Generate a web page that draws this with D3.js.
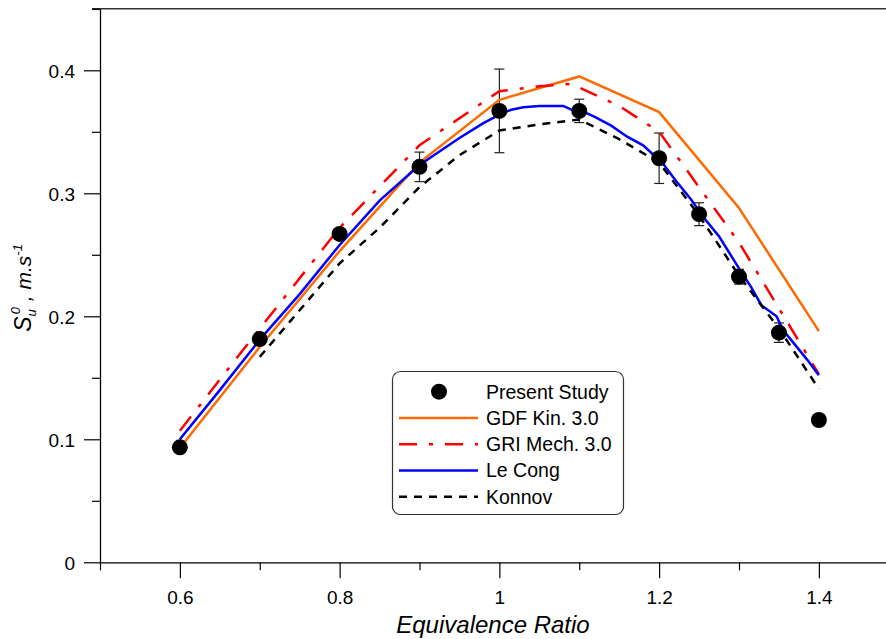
<!DOCTYPE html>
<html><head><meta charset="utf-8">
<script src="https://cdn.jsdelivr.net/npm/d3@7"></script>
<style>
html,body{margin:0;padding:0;background:#fff;}
svg{display:block;font-family:"Liberation Sans",Arial,sans-serif;}
</style></head>
<body><svg id="chart" width="886" height="639"></svg>
<script>
// ---------- DATA ----------
const phiExp = [0.6, 0.7, 0.8, 0.9, 1.0, 1.1, 1.2, 1.25, 1.3, 1.35, 1.4];
const suExp  = [0.0935, 0.1815, 0.267, 0.3215, 0.367, 0.367, 0.3285, 0.283, 0.2322, 0.1867, 0.1157];
const errExp = [0, 0, 0, 0.012, 0.034, 0.0095, 0.0205, 0.0093, 0.006, 0.0079, 0];

const phiGDF = [0.6, 0.7, 0.8, 0.9, 1.0, 1.1, 1.2, 1.3, 1.4];
const suGDF  = [0.093, 0.175, 0.253, 0.325, 0.376, 0.395, 0.366, 0.288, 0.188];

const phiGRI = [0.6, 0.7, 0.8, 0.9, 1.0, 1.05, 1.09, 1.15, 1.2, 1.3, 1.4];
const suGRI  = [0.107, 0.190, 0.272, 0.339, 0.383, 0.387, 0.389, 0.371, 0.350, 0.260, 0.153];

const phiLeCong = [0.6, 0.65, 0.7, 0.75, 0.8, 0.85, 0.9, 0.95, 0.98, 1.0, 1.015, 1.03, 1.05, 1.08, 1.09, 1.11, 1.12, 1.14, 1.16, 1.18, 1.205, 1.22, 1.24, 1.255, 1.275, 1.3, 1.315, 1.328, 1.347, 1.355, 1.385, 1.4];
const suLeCong  = [0.100, 0.140, 0.181, 0.218, 0.258, 0.294, 0.323, 0.345, 0.357, 0.364, 0.368, 0.370, 0.371, 0.371, 0.368, 0.365, 0.362, 0.355, 0.346, 0.339, 0.324, 0.311, 0.295, 0.281, 0.265, 0.239, 0.224, 0.209, 0.200, 0.189, 0.165, 0.152];

const phiKonnov = [0.7, 0.8, 0.85, 0.9, 0.95, 1.0, 1.05, 1.1, 1.15, 1.2, 1.25, 1.3, 1.35, 1.4];
const suKonnov  = [0.167, 0.243, 0.272, 0.305, 0.331, 0.351, 0.356, 0.360, 0.344, 0.325, 0.282, 0.233, 0.190, 0.141];

const xMajor = [0.6, 0.8, 1.0, 1.2, 1.4];
const xMinor = [0.5, 0.7, 0.9, 1.1, 1.3];
const yMajor = [0, 0.1, 0.2, 0.3, 0.4];
const yMinor = [0.05, 0.15, 0.25, 0.35, 0.45];

const legendLabels = ["Present Study", "GDF Kin. 3.0", "GRI Mech. 3.0", "Le Cong", "Konnov"];

// ---------- LAYOUT ----------
const svg = d3.select("#chart");
const x = d3.scaleLinear().domain([0.5, 1.5]).range([100, 898.75]);
const y = d3.scaleLinear().domain([0, 0.45]).range([562.3, 8.8]);
const fmt = d3.format("~g");

// top frame line
svg.append("line").attr("x1", 92).attr("x2", 886).attr("y1", y(0.45)).attr("y2", y(0.45))
  .attr("stroke", "#333").attr("stroke-width", 1.5);

// axes
function styleAxis(g) {
  g.selectAll("path.domain").attr("stroke", "#000").attr("stroke-width", 1.3);
  g.selectAll(".tick line").attr("stroke", "#000").attr("stroke-width", 1.2);
  g.selectAll("text").attr("font-size", 19).attr("fill", "#000")
   .attr("font-family", "'Liberation Sans',Arial,sans-serif");
}
const gy = svg.append("g").attr("transform", `translate(${x(0.5)},0)`)
  .call(d3.axisLeft(y).tickValues(yMajor).tickSize(16).tickSizeOuter(0).tickPadding(9).tickFormat(fmt));
styleAxis(gy);
gy.selectAll("text").attr("dy", "0.38em");
const gy2 = svg.append("g").attr("transform", `translate(${x(0.5)},0)`)
  .call(d3.axisLeft(y).tickValues(yMinor).tickSize(8).tickSizeOuter(0).tickFormat(""));
styleAxis(gy2);
gy2.select("path.domain").remove();

const gx = svg.append("g").attr("transform", `translate(0,${y(0)})`)
  .call(d3.axisBottom(x).tickValues(xMajor).tickSize(16).tickSizeOuter(0).tickPadding(12.5).tickFormat(fmt));
styleAxis(gx);
const gx2 = svg.append("g").attr("transform", `translate(0,${y(0)})`)
  .call(d3.axisBottom(x).tickValues(xMinor).tickSize(8).tickSizeOuter(0).tickFormat(""));
styleAxis(gx2);
gx2.select("path.domain").remove();

// axis titles
svg.append("text").attr("x", 493).attr("y", 633).attr("text-anchor", "middle")
  .attr("font-size", 24).attr("font-style", "italic").text("Equivalence Ratio");

const yl = svg.append("text").attr("transform", "translate(31,288) rotate(-90)")
  .attr("text-anchor", "middle").attr("font-size", 21).attr("font-style", "italic");
yl.append("tspan").attr("font-size", 23).text("S");
yl.append("tspan").attr("font-size", 13).attr("dy", 5).text("u");
yl.append("tspan").attr("font-size", 13).attr("dx", -5).attr("dy", -16).text("0");
yl.append("tspan").attr("font-size", 21).attr("dy", 11).text(" , m.s");
yl.append("tspan").attr("font-size", 13).attr("dy", -9).text("-1");

// ---------- MARKS ----------
const zip = (a, b) => a.map((v, i) => [v, b[i]]);
const line = d3.line().x(d => x(d[0])).y(d => y(d[1]));

const series = [
  {xs: phiGDF, ys: suGDF, color: "#FF6A00", dash: null},
  {xs: phiGRI, ys: suGRI, color: "#FF0000", dash: "18,12,4,12"},
  {xs: phiLeCong, ys: suLeCong, color: "#0000FF", dash: null},
  {xs: phiKonnov, ys: suKonnov, color: "#000000", dash: "8,7"}
];

// error bars
const eb = svg.append("g").attr("stroke", "#222").attr("stroke-width", 1.2);
phiExp.forEach((p, i) => {
  const e = errExp[i];
  if (!e) return;
  const cx = x(p), y1 = y(suExp[i] + e), y2 = y(suExp[i] - e);
  eb.append("line").attr("x1", cx).attr("x2", cx).attr("y1", y1).attr("y2", y2);
  eb.append("line").attr("x1", cx - 5).attr("x2", cx + 5).attr("y1", y1).attr("y2", y1);
  eb.append("line").attr("x1", cx - 5).attr("x2", cx + 5).attr("y1", y2).attr("y2", y2);
});

series.forEach(s => {
  svg.append("path").attr("d", line(zip(s.xs, s.ys))).attr("fill", "none")
    .attr("stroke", s.color).attr("stroke-width", 2.5)
    .attr("stroke-dasharray", s.dash);
});

svg.append("g").selectAll("circle").data(zip(phiExp, suExp)).join("circle")
  .attr("cx", d => x(d[0])).attr("cy", d => y(d[1])).attr("r", 8).attr("fill", "#000");

// ---------- LEGEND ----------
const lg = svg.append("g");
lg.append("rect").attr("x", 392.5).attr("y", 371.5).attr("width", 231).attr("height", 143)
  .attr("rx", 8).attr("fill", "#fff").attr("stroke", "#333").attr("stroke-width", 1.2);
const rowY = i => 391.7 + i * 26.25;
lg.append("circle").attr("cx", 439).attr("cy", rowY(0)).attr("r", 8).attr("fill", "#000");
series.forEach((s, i) => {
  lg.append("line").attr("x1", 399).attr("x2", 478).attr("y1", rowY(i + 1)).attr("y2", rowY(i + 1))
    .attr("stroke", s.color).attr("stroke-width", 2.5).attr("stroke-dasharray", s.dash);
});
legendLabels.forEach((t, i) => {
  lg.append("text").attr("x", 486).attr("y", rowY(i)).attr("dy", "0.36em")
    .attr("font-size", 19.5).text(t);
});
</script></body></html>
